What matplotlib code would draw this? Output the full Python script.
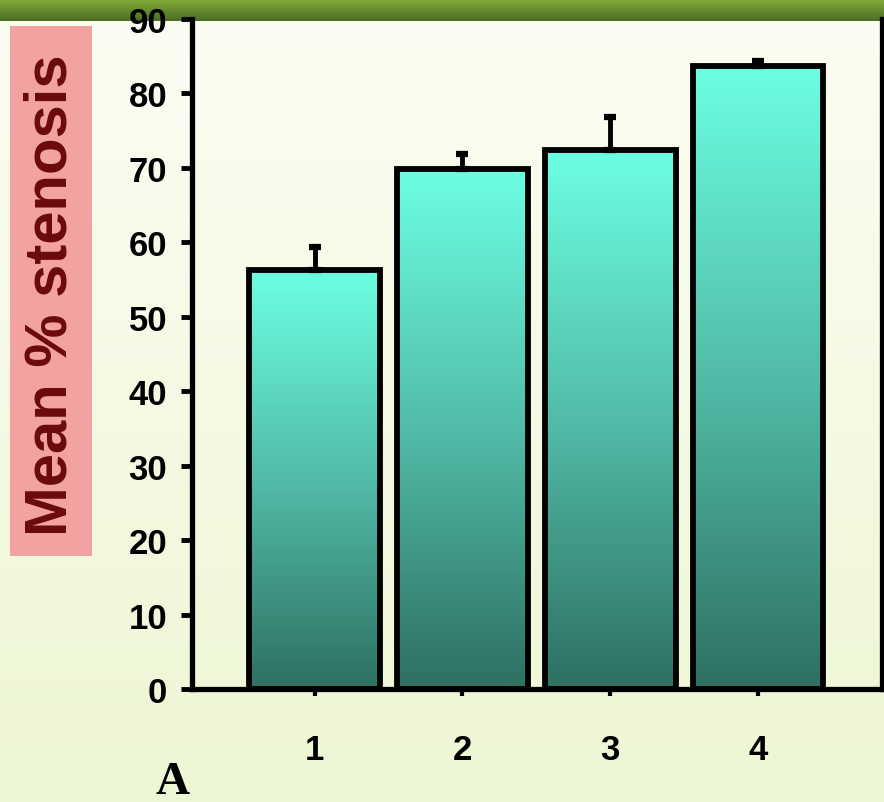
import numpy as np
import matplotlib
matplotlib.use("Agg")
import matplotlib.pyplot as plt
from matplotlib.patches import Rectangle
from matplotlib.colors import LinearSegmentedColormap

# Data
groups = ["1", "2", "3", "4"]
mean_stenosis = [56.3, 69.9, 72.4, 83.7]
sem_upper = [3.1, 2.0, 4.5, 0.7]
y_ticks = [0, 10, 20, 30, 40, 50, 60, 70, 80, 90]

W, H, DPI = 884, 803, 100
fig = plt.figure(figsize=(W / DPI, H / DPI), dpi=DPI)

# Slide-style background: pale cream-green gradient with a green band at the top
bg_ax = fig.add_axes([0, 0, 1, 1], zorder=-10)
rows = np.linspace(0, 1, H)[:, None, None]
top_col = np.array([252, 253, 243]) / 255
bot_col = np.array([237, 246, 212]) / 255
bg = top_col * (1 - rows) + bot_col * rows
bg = np.repeat(bg, W, axis=1)
band_h = 22
band = np.linspace(0, 1, band_h)[:, None, None]
band_top = np.array([130, 170, 55]) / 255
band_bot = np.array([76, 110, 36]) / 255
bg[:band_h] = band_top * (1 - band) + band_bot * band
bg_ax.imshow(bg, aspect="auto", extent=(0, 1, 0, 1), origin="upper")
bg_ax.set_axis_off()

ax = fig.add_axes([192 / W, 113 / H, 690 / W, 670 / H])
ax.patch.set_alpha(0)

x = np.arange(1, len(groups) + 1)
width = 0.885
cmap = LinearSegmentedColormap.from_list(
    "teal", [(0.0, "#2e7062"), (0.5, "#52bca8"), (1.0, "#6cffe2")])
grad = np.linspace(0, 1, 256)[:, None]

for xi, v in zip(x, mean_stenosis):
    ax.imshow(grad, cmap=cmap, aspect="auto", origin="lower",
              extent=(xi - width / 2, xi + width / 2, 0, v), zorder=2)

ax.bar(x, mean_stenosis, width=width, facecolor="none", edgecolor="black",
       linewidth=4.2, zorder=3)
ax.errorbar(x, mean_stenosis, yerr=[[0] * len(x), sem_upper], fmt="none",
            ecolor="black", elinewidth=3.5, capsize=4.5, capthick=4.5,
            zorder=2.5)

ax.set_xlim(0.17, 4.84)
ax.set_ylim(0, 90)
ax.set_yticks(y_ticks)
ax.set_xticks(x)
ax.set_xticklabels(groups)

for s in ["left", "bottom", "right"]:
    ax.spines[s].set_linewidth(3.8)
    ax.spines[s].set_color("black")
ax.spines["top"].set_visible(False)

ax.tick_params(axis="y", direction="out", length=8, width=3.5, pad=10,
               labelsize=25)
ax.tick_params(axis="x", direction="out", length=5, width=3, pad=27,
               labelsize=25)
for lab in ax.get_xticklabels() + ax.get_yticklabels():
    lab.set_fontfamily("Liberation Sans")
    lab.set_fontweight("bold")

# Y-axis title on a pink panel
fig.patches.append(Rectangle((10 / W, 246 / H), 82 / W, 530 / H,
                             transform=fig.transFigure, facecolor="#f3a2a2",
                             edgecolor="none", zorder=1))
fig.text(51 / W, 508 / H, "Mean % stenosis", rotation=90, ha="center",
         va="center", fontsize=43, fontweight="bold", color="#6a0a0a",
         family="Liberation Sans", zorder=2)

# Panel letter
fig.text(173 / W, 9 / H, "A", ha="center", va="baseline", fontsize=34,
         fontweight="bold", family="Liberation Serif", color="black")

fig.savefig("out.png", dpi=DPI)
